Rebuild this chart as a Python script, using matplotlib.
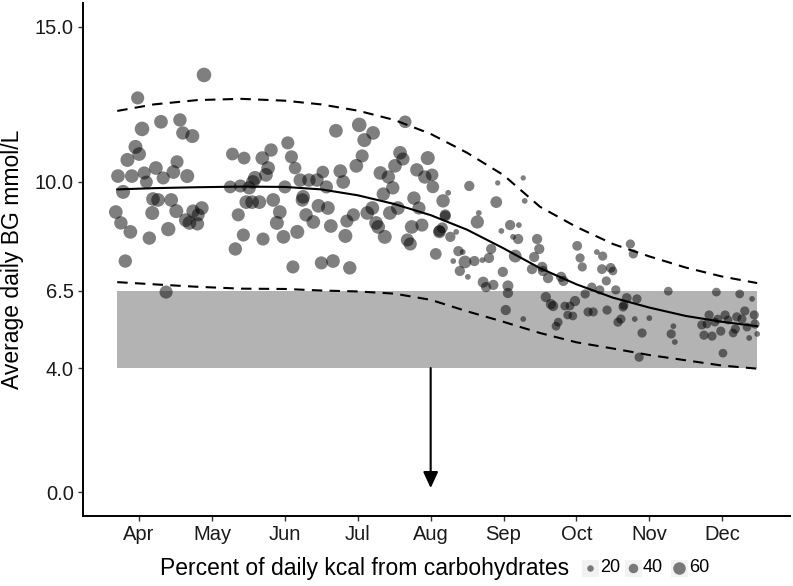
import matplotlib
matplotlib.use("Agg")
import matplotlib.pyplot as plt
from matplotlib.patches import Rectangle
from matplotlib.lines import Line2D
import numpy as np

plt.rcParams['font.family'] = ['Liberation Sans', 'DejaVu Sans']

# ---------------------------------------------------------------- data
# x = month as a number (4 = Apr ... 12 = Dec), y = average daily BG, carb % of kcal
month_apr_may = [4.89, 3.98, 4.04, 4.30, 4.56, 4.60, 4.73, 3.95, 4.00, 3.84,
                 3.71, 3.90, 4.07, 4.23, 4.52, 4.47, 4.33, 4.66, 4.10, 3.78,
                 4.19, 4.26, 4.44, 4.51, 4.18, 3.68, 3.75, 3.88, 4.14, 4.40,
                 4.64, 4.74, 4.86, 4.81, 4.80, 4.69, 3.81, 4.37]
bg_apr_may = [13.45, 12.71, 11.71, 11.94, 12.00, 11.58, 11.48, 11.13, 10.90, 10.71,
              10.19, 10.19, 10.29, 10.45, 10.65, 10.32, 10.13, 10.19, 10.00, 9.68,
              9.45, 9.42, 9.42, 9.06, 9.00, 9.03, 8.68, 8.39, 8.19, 8.48,
              8.77, 9.06, 9.16, 8.94, 8.65, 8.68, 7.45, 6.45]
carb_apr_may = [74, 64, 74, 68, 66, 66, 70, 70, 68, 70,
                68, 68, 64, 68, 64, 68, 64, 70, 62, 70,
                68, 68, 68, 70, 70, 68, 66, 68, 66, 72,
                68, 66, 68, 64, 66, 68, 66, 64]

month_may_jun = [5.28, 5.44, 5.69, 5.81, 5.77, 5.74, 5.59, 5.56, 5.25, 5.39,
                 5.51, 5.47, 5.55, 5.65, 5.84, 5.36, 5.43, 5.70, 5.32, 5.89]
bg_may_jun = [10.90, 10.77, 10.77, 11.03, 10.45, 10.23, 10.13, 10.00, 9.84, 9.87,
              9.81, 9.35, 9.35, 9.35, 9.42, 8.94, 8.29, 8.16, 7.84, 8.68]
carb_may_jun = [62, 62, 68, 66, 68, 68, 70, 68, 62, 64,
                66, 68, 68, 68, 68, 64, 64, 64, 66, 70]

month_jun_aug = [6.04, 6.09, 6.14, 6.00, 6.21, 6.33, 6.44, 6.52, 6.57, 6.76,
                 6.80, 6.98, 7.06, 6.70, 7.02, 7.09, 7.21, 7.65, 7.58, 7.62,
                 7.51, 7.31, 7.42, 7.48, 7.35, 7.96, 7.81, 7.92, 8.02, 8.03,
                 7.77, 7.84, 8.17, 5.93, 6.25, 6.24, 6.46, 6.59, 6.29, 6.39,
                 5.98, 6.17, 6.63, 6.83, 6.85, 6.94, 7.13, 7.20, 7.25, 7.28,
                 7.37, 7.44, 7.55, 7.74, 7.88, 7.68, 7.72, 8.12, 8.16, 8.20,
                 8.07, 6.11, 6.50, 6.66, 6.89]
bg_jun_aug = [11.26, 10.81, 10.45, 9.84, 10.06, 10.06, 10.06, 10.32, 9.84, 10.35,
              10.00, 10.52, 10.84, 11.65, 11.84, 11.35, 11.58, 11.94, 10.94, 10.74,
              10.52, 10.29, 10.16, 9.81, 9.61, 10.77, 10.39, 10.16, 10.23, 9.84,
              9.48, 9.16, 9.39, 9.03, 9.52, 9.42, 9.23, 9.16, 8.94, 8.71,
              8.23, 8.39, 8.58, 8.26, 8.74, 8.94, 9.00, 9.16, 8.68, 8.55,
              8.23, 9.00, 9.16, 8.55, 8.61, 8.13, 8.00, 8.39, 8.52, 8.90,
              7.68, 7.26, 7.39, 7.45, 7.23]
carb_jun_aug = [64, 64, 61, 64, 66, 66, 66, 61, 64, 68,
                68, 68, 64, 68, 74, 70, 68, 61, 68, 64,
                68, 68, 66, 66, 66, 70, 66, 66, 61, 61,
                66, 64, 66, 68, 68, 66, 68, 68, 66, 68,
                68, 70, 68, 70, 64, 64, 68, 68, 68, 68,
                70, 68, 68, 68, 64, 64, 64, 61, 50, 50,
                55, 64, 64, 68, 66]

month_aug_sep = [8.24, 8.53, 8.92, 9.27, 8.90, 9.29, 8.20, 8.66, 8.64, 8.12,
                 8.27, 8.35, 8.31, 8.38, 8.44, 8.47, 8.60, 8.71, 8.80, 8.83,
                 8.40, 8.51, 8.97, 9.09, 9.21, 9.13, 9.20, 8.99, 8.72, 8.76,
                 8.86, 9.06, 9.06, 9.03, 9.27, 9.16, 9.42, 9.46, 9.49, 9.39,
                 9.53, 9.54, 9.61, 9.79, 9.82, 9.58, 9.65, 9.68, 9.84, 9.91,
                 9.88, 9.95, 9.98, 9.75, 9.72]
bg_aug_sep = [9.65, 9.87, 9.97, 10.13, 9.35, 9.39, 8.94, 9.00, 8.71, 8.42,
              8.23, 8.39, 7.45, 7.77, 7.74, 7.42, 7.45, 7.48, 7.55, 7.84,
              7.13, 6.94, 8.42, 8.61, 8.61, 8.23, 8.16, 7.10, 6.77, 6.61,
              6.68, 6.65, 6.42, 5.87, 5.58, 7.61, 7.58, 8.16, 7.84, 7.19,
              7.26, 7.13, 6.90, 6.94, 6.81, 6.29, 6.06, 6.00, 6.00, 6.00,
              5.71, 5.68, 6.16, 5.48, 5.35]
carb_aug_sep = [15, 45, 12, 12, 55, 15, 50, 15, 65, 55,
                45, 15, 15, 45, 15, 62, 45, 15, 45, 45,
                45, 15, 15, 45, 15, 15, 45, 45, 50, 45,
                45, 50, 45, 45, 15, 62, 45, 45, 45, 45,
                45, 45, 45, 45, 45, 45, 45, 45, 35, 35,
                35, 35, 45, 35, 35]

month_oct_nov = [10.01, 10.05, 10.08, 10.28, 10.36, 10.35, 10.41, 10.21, 10.12, 10.32,
                 10.16, 10.23, 10.42, 10.74, 10.78, 10.47, 10.50, 10.54, 10.57, 10.61,
                 10.69, 10.65, 10.64, 10.83, 10.80, 10.90, 11.00, 10.86, 11.26, 11.33,
                 11.30, 11.35]
bg_oct_nov = [7.94, 7.55, 7.26, 7.74, 7.61, 7.19, 6.81, 6.61, 6.39, 6.52,
              5.81, 5.81, 5.87, 8.00, 7.68, 7.23, 7.13, 6.52, 5.48, 5.58,
              6.26, 6.03, 5.97, 6.23, 5.58, 5.13, 5.61, 4.35, 6.48, 5.35,
              5.10, 4.84]
carb_oct_nov = [42, 38, 38, 15, 38, 42, 38, 38, 38, 38,
                38, 38, 38, 38, 38, 42, 35, 38, 38, 38,
                42, 38, 38, 38, 15, 38, 15, 38, 35, 15,
                38, 15]

month_dec = [11.72, 11.79, 11.82, 11.90, 11.94, 12.04, 12.08, 12.20, 12.27, 12.31,
             12.44, 12.45, 12.34, 12.18, 12.15, 11.98, 11.86, 11.75, 12.37, 12.48,
             11.92, 12.24, 12.41, 12.01]
bg_dec = [5.39, 5.42, 5.71, 5.48, 5.58, 5.71, 5.55, 5.65, 5.58, 5.84,
          5.71, 5.42, 5.32, 5.26, 5.13, 5.19, 5.03, 5.06, 4.97, 5.10,
          6.45, 6.39, 6.23, 4.48]
carb_dec = [38, 35, 38, 35, 35, 38, 35, 38, 38, 38,
            38, 38, 35, 38, 35, 38, 38, 38, 15, 15,
            35, 35, 15, 35]

# fitted trend and its band
fit_month = [3.70, 4.2, 4.8, 5.4, 6.0, 6.5, 7.0, 7.5, 8.0, 8.5,
             9.0, 9.5, 10.0, 10.5, 11.0, 11.5, 12.0, 12.48]
fit_mean = [9.76, 9.80, 9.83, 9.85, 9.84, 9.76, 9.57, 9.29, 8.93, 8.46,
            7.86, 7.22, 6.70, 6.27, 5.95, 5.68, 5.49, 5.35]
fit_upper = [12.29, 12.50, 12.64, 12.68, 12.62, 12.50, 12.30, 12.00, 11.55, 10.94,
             10.22, 9.20, 8.55, 8.00, 7.60, 7.24, 6.95, 6.74]
fit_lower = [6.77, 6.70, 6.62, 6.56, 6.55, 6.50, 6.47, 6.40, 6.20, 5.83,
             5.49, 5.13, 4.83, 4.63, 4.42, 4.25, 4.08, 3.98]

target_low, target_high = 4.0, 6.5
month_ticks = [4, 5, 6, 7, 8, 9, 10, 11, 12]
month_labels = ["Apr", "May", "Jun", "Jul", "Aug", "Sep", "Oct", "Nov", "Dec"]
bg_ticks = [0.0, 4.0, 6.5, 10.0, 15.0]
legend_carbs = [20, 40, 60]

# ---------------------------------------------------------------- plot
month = np.array(month_apr_may + month_may_jun + month_jun_aug + month_aug_sep + month_oct_nov + month_dec)
bg = np.array(bg_apr_may + bg_may_jun + bg_jun_aug + bg_aug_sep + bg_oct_nov + bg_dec)
carb = np.array(carb_apr_may + carb_may_jun + carb_jun_aug + carb_aug_sep + carb_oct_nov + carb_dec)


def marker_pt(c):
    # diameter in points for a given carb percentage
    return (3.5 + 0.15 * np.asarray(c)) * 0.72


fig = plt.figure(figsize=(7.93, 5.86), dpi=100)
ax = fig.add_axes([83 / 793, 70 / 586, 707 / 793, 513 / 586])

ax.fill_between([fit_month[0], fit_month[-1]], target_low, target_high,
                color='#b3b3b3', lw=0, zorder=1)
ax.scatter(month, bg, s=marker_pt(carb) ** 2, c='black', alpha=0.5,
           linewidths=0, zorder=2)
ax.plot(fit_month, fit_mean, color='black', lw=1.5, zorder=3)
ax.plot(fit_month, fit_upper, color='black', lw=1.5, ls=(0, (5, 3.5)), zorder=3)
ax.plot(fit_month, fit_lower, color='black', lw=1.5, ls=(0, (5, 3.5)), zorder=3)

ax.annotate('', xy=(8.0, 0.13), xytext=(8.0, target_low),
            arrowprops=dict(arrowstyle='-|>,head_length=0.65,head_width=0.3',
                            color='black', lw=1.5, mutation_scale=15,
                            shrinkA=0, shrinkB=0), zorder=4)

ax.set_xlim(3.23, 12.93)
ax.set_ylim(-0.77, 15.77)
ax.set_xticks(month_ticks)
ax.set_xticklabels(month_labels)
ax.set_yticks(bg_ticks)
ax.set_yticklabels([f"{t:.1f}" for t in bg_ticks])
ax.tick_params(direction='out', length=3.5, width=1, color='#333333',
               labelsize=14.5, labelcolor='#1a1a1a', pad=3)
for side in ['top', 'right']:
    ax.spines[side].set_visible(False)
for side in ['left', 'bottom']:
    ax.spines[side].set_linewidth(1.4)
    ax.spines[side].set_color('black')

ax.set_ylabel("Average daily BG mmol/L", fontsize=16.5, labelpad=8)

# size legend at the bottom, title on the left of the keys
fig.text(160 / 793, 1 - 568 / 586, "Percent of daily kcal from carbohydrates",
         fontsize=16.5, ha='left', va='center')
key_x = [590, 633, 679]
for kx, c in zip(key_x, legend_carbs):
    fig.add_artist(Rectangle(((kx - 8.5) / 793, 1 - 576.5 / 586), 17 / 793, 17 / 586,
                             transform=fig.transFigure, facecolor='#f2f2f2',
                             edgecolor='none'))
    fig.add_artist(Line2D([kx / 793], [1 - 568 / 586], marker='o', linestyle='none',
                          markersize=marker_pt(c), markerfacecolor='black',
                          markeredgewidth=0, alpha=0.5, transform=fig.transFigure))
    fig.text((kx + 10) / 793, 1 - 568 / 586, str(c), fontsize=13,
             ha='left', va='center')

fig.savefig("out.png", dpi=100)
